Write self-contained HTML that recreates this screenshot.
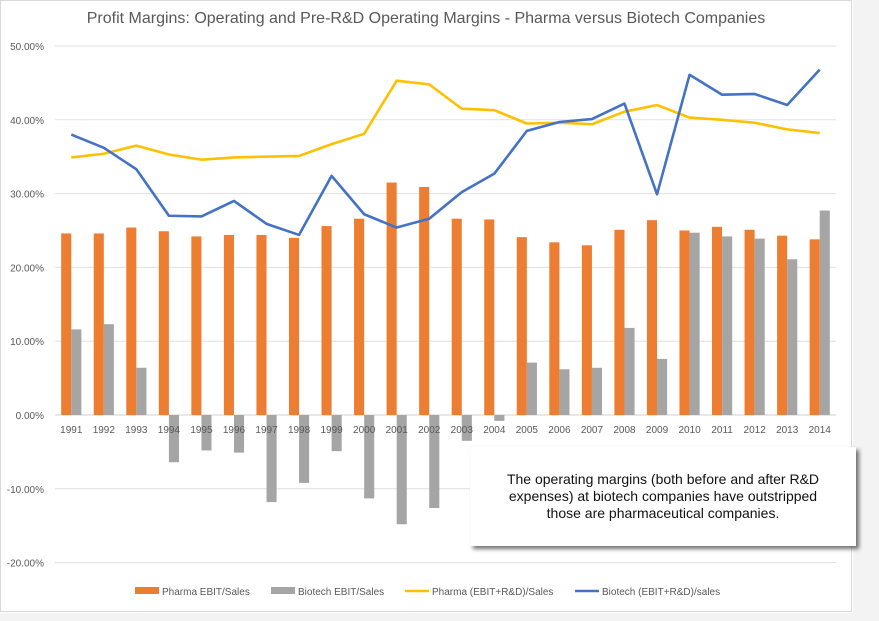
<!DOCTYPE html>
<html><head><meta charset="utf-8"><style>
body{margin:0;width:879px;height:621px;background:#fff;font-family:"Liberation Sans",sans-serif;overflow:hidden;position:relative}
#strip{position:absolute;left:853px;top:0;width:26px;height:621px;background:#f3f3f3}
#bstrip{position:absolute;left:0;top:613px;width:879px;height:8px;background:#f3f3f3}
#callout{position:absolute;left:470px;top:447px;width:386px;height:99px;background:#fff;box-shadow:3px 3px 4px rgba(0,0,0,.55);font-size:14px;color:#111;text-align:center;line-height:17px;box-sizing:border-box;padding-top:24px}
</style></head><body>
<div id="strip"></div>
<div id="bstrip"></div>
<svg id="chart" width="853" height="613" style="position:absolute;left:0;top:0"></svg>
<div id="callout">The operating margins (both before and after R&amp;D<br>expenses) at biotech companies have outstripped<br>those are pharmaceutical companies.</div>
<script>
const years=["1991","1992","1993","1994","1995","1996","1997","1998","1999","2000","2001","2002","2003","2004","2005","2006","2007","2008","2009","2010","2011","2012","2013","2014"];
const pharmaEbit=[24.6,24.6,25.4,24.9,24.2,24.4,24.4,24.0,25.6,26.6,31.5,30.9,26.6,26.5,24.1,23.4,23.0,25.1,26.4,25.0,25.5,25.1,24.3,23.8];
const biotechEbit=[11.6,12.3,6.4,-6.4,-4.8,-5.1,-11.8,-9.2,-4.9,-11.3,-14.8,-12.6,-3.5,-0.8,7.1,6.2,6.4,11.8,7.6,24.7,24.2,23.9,21.1,27.7];
const pharmaRD=[34.9,35.4,36.5,35.3,34.6,34.9,35.0,35.1,36.7,38.1,45.3,44.8,41.5,41.3,39.5,39.6,39.4,41.1,42.0,40.3,40.0,39.6,38.7,38.2];
const biotechRD=[38.0,36.2,33.3,27.0,26.9,29.0,25.9,24.4,32.4,27.2,25.4,26.6,30.2,32.7,38.5,39.7,40.1,42.2,29.9,46.1,43.4,43.5,42.0,46.8];
const yTicks=[50,40,30,20,10,0,-10,-20];
const svg=document.getElementById('chart');
const NS='http://www.w3.org/2000/svg';
const X0=55,X1=836;
const step=(X1-X0)/years.length;
const xc=i=>X0+step*(i+0.5);
const y=v=>415-v*7.38;
function mk(t,a){const e=document.createElementNS(NS,t);for(const k in a)e.setAttribute(k,a[k]);svg.appendChild(e);return e;}
let e=mk('rect',{x:0.5,y:0.5,width:851,height:611,fill:'none',stroke:'#d9d9d9'});

e=mk('text',{x:426,y:23,'text-anchor':'middle','font-size':16,fill:'#595959'});e.textContent='Profit Margins: Operating and Pre-R&D Operating Margins - Pharma versus Biotech Companies';

yTicks.forEach(t=>{
 const g=mk('line',{x1:X0,x2:X1,y1:y(t),y2:y(t),stroke:t===0?'#d0d0d0':'#e0e0e0'});
 
 const l=mk('text',{x:44,y:y(t)+4,'text-anchor':'end','font-size':10,fill:'#595959'});l.textContent=t.toFixed(2)+'%';
 
});
years.forEach((yr,i)=>{
 const bw=step*0.31;
 let a=pharmaEbit[i];
 let r=mk('rect',{x:xc(i)-bw,y:Math.min(y(a),y(0)),width:bw,height:Math.abs(y(a)-y(0)),fill:'#ed7d31'});
 
 a=biotechEbit[i];
 r=mk('rect',{x:xc(i),y:Math.min(y(a),y(0)),width:bw,height:Math.abs(y(a)-y(0)),fill:'#a5a5a5'});
 
});
years.forEach((yr,i)=>{
 const l=mk('text',{x:xc(i),y:433,'text-anchor':'middle','font-size':10,fill:'#595959'});l.textContent=yr;
 
});
function line(d,c,n){const p=mk('polyline',{points:d.map((v,i)=>xc(i)+','+y(v)).join(' '),fill:'none',stroke:c,'stroke-width':2.6,'stroke-linejoin':'round'});
 }
line(pharmaRD,'#ffc000','line-pharma-ebit-rd');
line(biotechRD,'#4472c4','line-biotech-ebit-rd');
const leg=[['Pharma EBIT/Sales','#ed7d31','rect',135],['Biotech EBIT/Sales','#a5a5a5','rect',271],['Pharma (EBIT+R&D)/Sales','#ffc000','line',405],['Biotech (EBIT+R&D)/sales','#4472c4','line',575]];
leg.forEach(([t,c,k,x])=>{
 let m=k==='rect'?mk('rect',{x:x,y:587,width:24,height:7,fill:c}):mk('line',{x1:x,x2:x+24,y1:591,y2:591,stroke:c,'stroke-width':2.6});
 
 const l=mk('text',{x:x+27,y:595,'font-size':10,fill:'#595959'});l.textContent=t;
 
});
</script>
</body></html>
